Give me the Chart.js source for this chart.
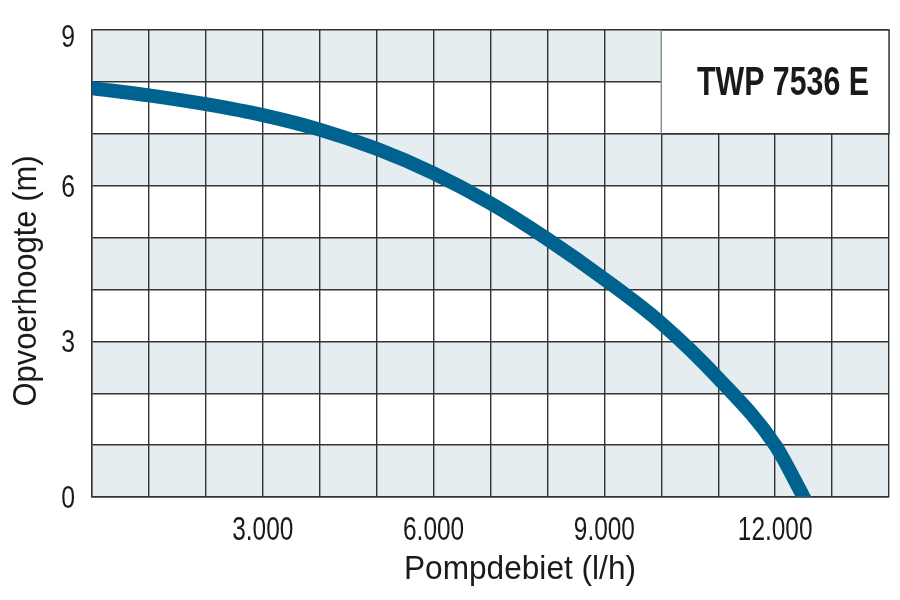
<!DOCTYPE html>
<html>
<head>
<meta charset="utf-8">
<script src="https://cdn.jsdelivr.net/npm/chart.js@4"></script>
<style>
  html, body { margin: 0; padding: 0; background: #ffffff; }
  #wrap { width: 900px; height: 600px; position: relative; }
</style>
</head>
<body>
<div id="wrap"><canvas id="chart"></canvas></div>
<script>
// pump curve TWP 7536 E
const flowValues = [0, 1000, 2000, 3000, 4000, 5000, 6000, 7000, 8000, 9000, 10000, 11000, 12000, 12500];
const headValues = [7.88, 7.74, 7.57, 7.36, 7.08, 6.71, 6.24, 5.66, 4.97, 4.20, 3.35, 2.29, 1.00, 0];
const xTickLabels = [3000, 6000, 9000, 12000];
const yTickLabels = [0, 3, 6, 9];
const modelName = 'TWP 7536 E';
const xTitle = 'Pompdebiet (l/h)';
const yTitle = 'Opvoerhoogte (m)';

const FONT = "'Liberation Sans', Arial, sans-serif";
const INK = '#1a1a1a';
const GRID = '#333333';

const points = flowValues.map((x, i) => ({ x: x, y: headValues[i] }));

// draw text squeezed horizontally to look like a condensed face
function narrowText(ctx, text, x, y, squeeze, align) {
  ctx.save();
  ctx.translate(x, y);
  ctx.scale(squeeze, 1);
  ctx.textAlign = align;
  ctx.fillText(text, 0, 0);
  ctx.restore();
}

// light bands on every other row
const bandPlugin = {
  id: 'bands',
  beforeDraw(chart) {
    const { ctx, chartArea, scales } = chart;
    ctx.save();
    ctx.fillStyle = '#e5edf0';
    for (let v = 0; v < 9; v += 2) {
      const top = scales.y.getPixelForValue(v + 1);
      const bottom = scales.y.getPixelForValue(v);
      ctx.fillRect(chartArea.left, top, chartArea.right - chartArea.left, bottom - top);
    }
    ctx.restore();
  }
};

// white label box in the top right corner
const boxPlugin = {
  id: 'modelBox',
  beforeDatasetsDraw(chart) {
    const { ctx, chartArea, scales } = chart;
    const x1 = scales.x.getPixelForValue(10000);
    const x2 = chartArea.right;
    const y1 = chartArea.top;
    const y2 = scales.y.getPixelForValue(7);
    ctx.save();
    ctx.fillStyle = '#ffffff';
    ctx.fillRect(x1, y1, x2 - x1, y2 - y1);
    ctx.lineWidth = 1.4;
    ctx.strokeStyle = GRID;
    ctx.beginPath();
    ctx.moveTo(x1, y1); ctx.lineTo(x2, y1); ctx.lineTo(x2, y2); ctx.lineTo(x1, y2);
    ctx.stroke();
    ctx.strokeStyle = '#8c8c8c';
    ctx.beginPath();
    ctx.moveTo(x1, y1); ctx.lineTo(x1, y2);
    ctx.stroke();

    ctx.fillStyle = INK;
    ctx.font = 'bold 41px ' + FONT;
    ctx.textBaseline = 'alphabetic';
    narrowText(ctx, modelName, x2 - 20, y1 + 65, 0.74, 'right');
    ctx.restore();
  }
};

// tick labels and axis titles in a condensed look
const labelPlugin = {
  id: 'axisLabels',
  afterDraw(chart) {
    const { ctx, chartArea, scales } = chart;
    ctx.save();
    ctx.fillStyle = INK;
    ctx.textBaseline = 'alphabetic';

    ctx.font = '33px ' + FONT;
    xTickLabels.forEach(v => {
      const px = scales.x.getPixelForValue(v);
      narrowText(ctx, v.toLocaleString('de-DE'), px, chartArea.bottom + 43, 0.74, 'center');
    });
    ctx.font = '31px ' + FONT;
    yTickLabels.forEach(v => {
      const py = Math.max(scales.y.getPixelForValue(v), chartArea.top + 6);
      narrowText(ctx, String(v), chartArea.left - 17, py + 11, 0.8, 'right');
    });

    ctx.font = '34px ' + FONT;
    narrowText(ctx, xTitle, chartArea.left + 428, chartArea.bottom + 82, 0.93, 'center');

    ctx.translate(36, chartArea.top + 251);
    ctx.rotate(-Math.PI / 2);
    narrowText(ctx, yTitle, 0, 0, 0.91, 'center');
    ctx.restore();
  }
};

new Chart(document.getElementById('chart'), {
  type: 'scatter',
  data: {
    datasets: [{
      data: points,
      showLine: true,
      borderColor: '#00628e',
      borderWidth: 14,
      borderCapStyle: 'square',
      pointRadius: 0,
      pointHoverRadius: 0,
      cubicInterpolationMode: 'monotone',
      clip: 0
    }]
  },
  options: {
    responsive: true,
    maintainAspectRatio: false,
    animation: false,
    events: [],
    layout: { padding: { top: 30, right: 11, left: 0, bottom: 0 } },
    plugins: {
      legend: { display: false },
      tooltip: { enabled: false }
    },
    scales: {
      x: {
        type: 'linear',
        min: 0,
        max: 14000,
        afterFit(scale) { scale.height = 103; },
        grid: { color: GRID, lineWidth: 1.4, drawTicks: false },
        border: { color: GRID, width: 1.4 },
        ticks: { stepSize: 1000, display: false, autoSkip: false }
      },
      y: {
        type: 'linear',
        min: 0,
        max: 9,
        afterFit(scale) { scale.width = 92; },
        grid: { color: GRID, lineWidth: 1.4, drawTicks: false },
        border: { color: GRID, width: 1.4 },
        ticks: { stepSize: 1, display: false, autoSkip: false }
      }
    }
  },
  plugins: [bandPlugin, boxPlugin, labelPlugin]
});
</script>
</body>
</html>
